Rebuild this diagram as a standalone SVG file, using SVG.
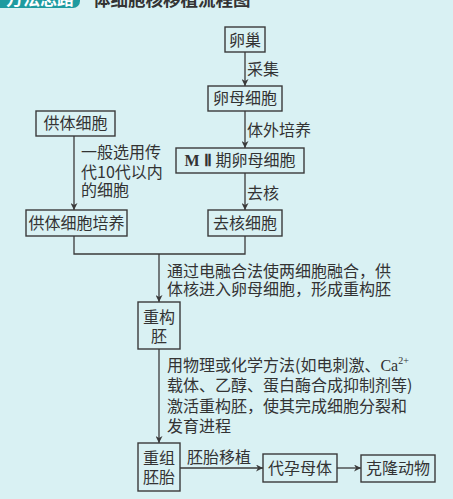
<svg xmlns="http://www.w3.org/2000/svg" width="453" height="499" viewBox="0 0 453 499">
<defs>
<marker id="ah" viewBox="0 0 10 10" refX="10" refY="5" markerWidth="7" markerHeight="7" orient="auto" markerUnits="userSpaceOnUse">
<path d="M0,0 L10,5 L0,10 L3,5 Z" fill="#3a3a3a"/>
</marker>
</defs>
<style>
.box{fill:none;stroke:#3a3a3a;stroke-width:1.4}
.t{font-family:"Noto Sans CJK SC","Noto Sans",sans-serif;font-size:16px;fill:#333}
.c{text-anchor:middle}
.ln{fill:none;stroke:#3a3a3a;stroke-width:1.3}
.ser{font-family:"Liberation Serif",serif}
</style>
<rect x="0" y="0" width="453" height="499" fill="#d9f1f3"/>
<g id="header">
<rect x="-12" y="-22" width="92" height="30" rx="7" fill="#1f9ba0"/>
<text x="6" y="5" font-family="'Noto Sans CJK SC',sans-serif" font-size="17" font-weight="bold" fill="#ffffff">方法思路</text>
<text x="93" y="6" font-family="'Noto Sans CJK SC',sans-serif" font-size="17.5" font-weight="bold" fill="#333">体细胞核移植流程图</text>
</g>
<g id="connectors">
<line class="ln" x1="245" y1="52" x2="245" y2="86" marker-end="url(#ah)"/>
<line class="ln" x1="245" y1="111" x2="245" y2="148" marker-end="url(#ah)"/>
<line class="ln" x1="245" y1="173" x2="245" y2="210" marker-end="url(#ah)"/>
<line class="ln" x1="74" y1="136" x2="74" y2="210" marker-end="url(#ah)"/>
<polyline class="ln" points="74,236 74,254 245,254 245,236"/>
<line class="ln" x1="159" y1="254" x2="159" y2="302" marker-end="url(#ah)"/>
<line class="ln" x1="159" y1="349" x2="159" y2="443" marker-end="url(#ah)"/>
<line class="ln" x1="180" y1="468" x2="263" y2="468" marker-end="url(#ah)"/>
<line class="ln" x1="337" y1="468" x2="361" y2="468" marker-end="url(#ah)"/>
</g>
<g id="labels">
<text class="t" x="247" y="75">采集</text>
<text class="t" x="247" y="136">体外培养</text>
<text class="t" x="247" y="199">去核</text>
<text class="t" x="81" y="158">一般选用传</text>
<text class="t" x="81" y="177.5">代10代以内</text>
<text class="t" x="81" y="196">的细胞</text>
<text class="t" x="167" y="277">通过电融合法使两细胞融合，供</text>
<text class="t" x="167" y="295">体核进入卵母细胞，形成重构胚</text>
<text class="t" x="167" y="371">用物理或化学方法(如电刺激、<tspan class="ser">Ca</tspan><tspan class="ser" font-size="10" dy="-7">2+</tspan></text>
<text class="t" x="167" y="391">载体、乙醇、蛋白酶合成抑制剂等)</text>
<text class="t" x="167" y="412">激活重构胚，使其完成细胞分裂和</text>
<text class="t" x="167" y="432">发育进程</text>
<text class="t" x="187" y="463">胚胎移植</text>
</g>
<g id="n-ovary">
<rect class="box" x="225" y="27" width="40" height="25"/>
<text class="t c" x="245" y="45.5">卵巢</text>
</g>
<g id="n-oocyte">
<rect class="box" x="208" y="86" width="74" height="25"/>
<text class="t c" x="245" y="104">卵母细胞</text>
</g>
<g id="n-donor">
<rect class="box" x="36" y="111" width="79" height="25"/>
<text class="t c" x="75.5" y="129">供体细胞</text>
</g>
<g id="n-mii">
<rect class="box" x="176" y="148" width="128" height="25"/>
<text class="t c" x="240" y="166"><tspan class="ser" font-weight="bold">M Ⅱ </tspan>期卵母细胞</text>
</g>
<g id="n-enucleated">
<rect class="box" x="208" y="210" width="74" height="26"/>
<text class="t c" x="245" y="228.5">去核细胞</text>
</g>
<g id="n-donor-culture">
<rect class="box" x="26" y="210" width="101" height="26"/>
<text class="t c" x="76.5" y="228.5">供体细胞培养</text>
</g>
<g id="n-reconstructed">
<rect class="box" x="138" y="302" width="42" height="47"/>
<text class="t c" x="159" y="322.5">重构</text>
<text class="t c" x="159" y="341.5">胚</text>
</g>
<g id="n-embryo">
<rect class="box" x="138" y="443" width="42" height="48"/>
<text class="t c" x="159" y="463.5">重组</text>
<text class="t c" x="159" y="482.5">胚胎</text>
</g>
<g id="n-surrogate">
<rect class="box" x="263" y="454" width="74" height="28"/>
<text class="t c" x="300" y="473.5">代孕母体</text>
</g>
<g id="n-clone">
<rect class="box" x="361" y="455" width="74" height="27"/>
<text class="t c" x="398" y="473.5">克隆动物</text>
</g>
</svg>
